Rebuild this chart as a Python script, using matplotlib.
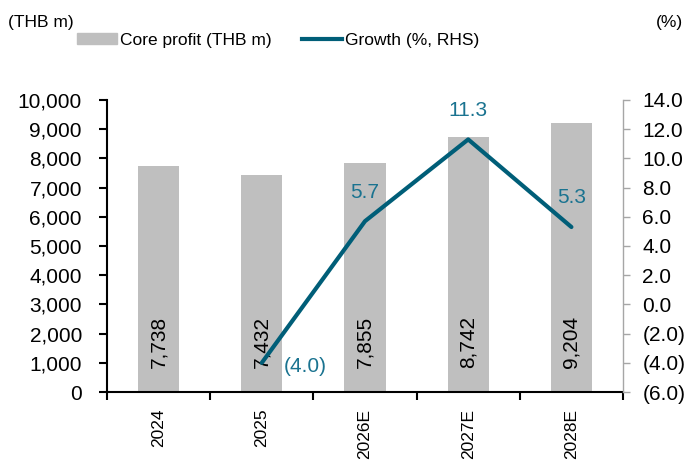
import matplotlib
matplotlib.use("Agg")
from matplotlib import pyplot as plt
from matplotlib.ticker import FuncFormatter, FixedLocator
from matplotlib.patches import Patch
from matplotlib.lines import Line2D

plt.rcParams['font.family'] = ['Liberation Sans', 'DejaVu Sans']

years = ['2024', '2025', '2026E', '2027E', '2028E']
core_profit = [7738, 7432, 7855, 8742, 9204]
growth_years = ['2025', '2026E', '2027E', '2028E']
growth = [-4.0, 5.7, 11.3, 5.3]

bar_col = '#BFBFBF'
line_col = '#005E78'
lbl_col = '#1A7390'
fs = 15      # axis numbers and data labels
nfs = 12.5   # header, legend and category labels (narrower in the original)

fig = plt.figure(figsize=(6.88, 4.63), dpi=100)
ax = fig.add_axes([107 / 688, 71 / 463, 516 / 688, 292 / 463])
x = list(range(len(years)))
ax.bar(x, core_profit, width=0.4, color=bar_col, zorder=1)
for i, v in enumerate(core_profit):
    ax.text(i, 1700, f'{v:,}', rotation=90, ha='center', va='center',
            fontsize=fs, color='black', zorder=3)

ax.set_xlim(-0.5, len(years) - 0.5)
ax.set_ylim(0, 10000)
ax.set_yticks(range(0, 10001, 1000))
ax.yaxis.set_major_formatter(FuncFormatter(lambda v, p: f'{v:,.0f}'))
ax.set_xticks(x)
ax.set_xticklabels(years, rotation=90, fontsize=nfs)
ax.xaxis.set_minor_locator(FixedLocator([i - 0.5 for i in range(len(years) + 1)]))
ax.tick_params(axis='x', which='major', length=0, pad=12)
ax.tick_params(axis='x', which='minor', length=6, width=1.5, direction='out')
ax.tick_params(axis='y', labelsize=fs, length=6, width=1.5, direction='out', pad=12)
for s in ['left', 'bottom']:
    ax.spines[s].set_linewidth(1.5)
ax.spines['top'].set_visible(False)
ax.spines['right'].set_visible(False)

ax2 = ax.twinx()
gx = [years.index(g) for g in growth_years]
ax2.plot(gx, growth, color=line_col, lw=3, zorder=4, solid_capstyle='round')
ax2.set_ylim(-6, 14)
ax2.set_yticks(range(-6, 15, 2))
ax2.yaxis.set_major_formatter(FuncFormatter(
    lambda v, p: f'({abs(v):.1f})' if v < 0 else f'{v:.1f}'))
ax2.tick_params(axis='y', labelsize=fs, length=5, width=1, colors='#A6A6A6',
                labelcolor='black', direction='out', pad=9)
ax2.spines['right'].set_color('#A6A6A6')
ax2.spines['right'].set_linewidth(1)
for s in ['top', 'left', 'bottom']:
    ax2.spines[s].set_visible(False)

for xi, g in zip(gx, growth):
    lab = f'({abs(g):.1f})' if g < 0 else f'{g:.1f}'
    if g < 0:
        ax2.annotate(lab, (xi, g), xytext=(16, -3), textcoords='offset points',
                     ha='left', va='center', fontsize=fs, color=lbl_col)
    else:
        ax2.annotate(lab, (xi, g), xytext=(0, 21), textcoords='offset points',
                     ha='center', va='center', fontsize=fs, color=lbl_col)

handles = [Patch(color=bar_col, label='Core profit (THB m)'),
           Line2D([], [], color=line_col, lw=3, label='Growth (%, RHS)')]
fig.legend(handles=handles, loc='center left', bbox_to_anchor=(77 / 688, 1 - 40 / 463),
           ncol=2, frameon=False, fontsize=nfs,
           borderpad=0, borderaxespad=0, handlelength=2.3, handleheight=0.6,
           handletextpad=0.17, columnspacing=1.75)

fig.text(8 / 688, 1 - 22 / 463, '(THB m)', ha='left', va='center', fontsize=nfs)
fig.text(683 / 688, 1 - 22 / 463, '(%)', ha='right', va='center', fontsize=nfs)

fig.savefig('out.png', dpi=100)
